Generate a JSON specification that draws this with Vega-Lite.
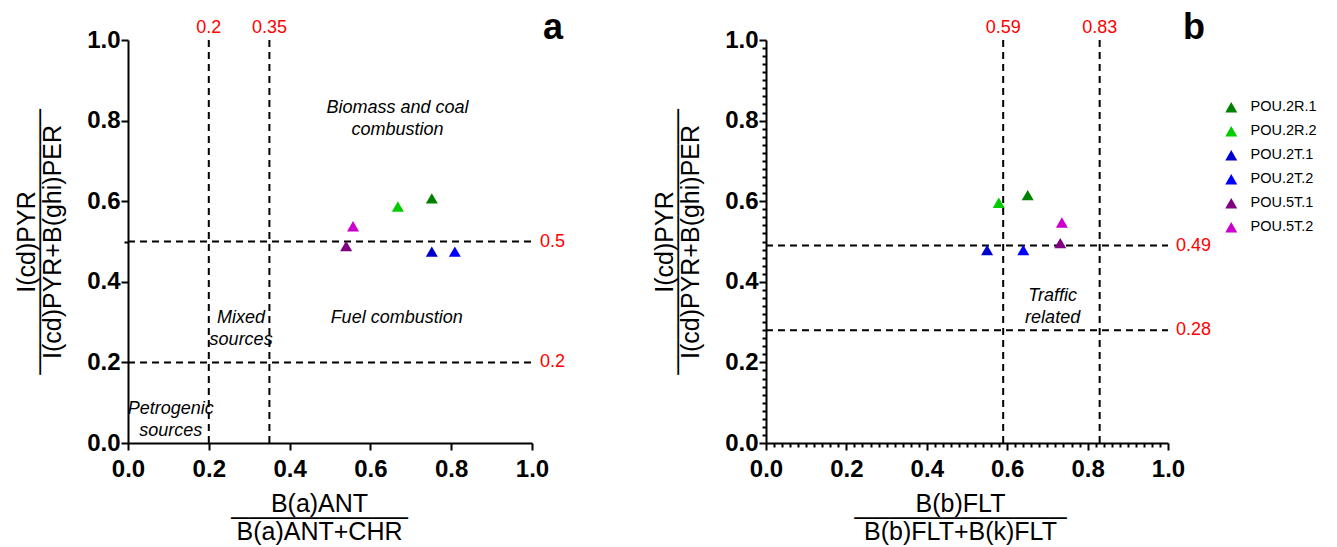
{
  "$schema": "https://vega.github.io/schema/vega-lite/v6.json",
  "background": "white",
  "padding": {"left": 14, "top": 10, "right": 5, "bottom": 2},
  "config": {
    "view": {"stroke": null},
    "font": "Liberation Sans",
    "axis": {
      "grid": false,
      "domainColor": "black",
      "domainWidth": 2,
      "tickColor": "black",
      "tickWidth": 2,
      "labelFont": "Liberation Sans",
      "labelFontWeight": "bold",
      "labelFontSize": 24,
      "labelColor": "black",
      "labelFlush": false,
      "labelOverlap": false,
      "titleFont": "Liberation Sans",
      "titleFontWeight": "normal",
      "titleFontSize": 25,
      "titleColor": "black",
      "titleLineHeight": 14
    },
    "axisX": {"labelPadding": 7, "titlePadding": 10},
    "axisY": {"labelPadding": 1, "titlePadding": 21, "titleLineHeight": 13},
    "legend": {
      "orient": "none",
      "legendX": 1096,
      "legendY": 60,
      "labelFont": "Liberation Sans",
      "labelFontSize": 14.5,
      "labelColor": "black",
      "symbolSize": 144,
      "rowPadding": 9,
      "labelOffset": 12
    },
    "title": {"font": "Liberation Sans", "fontSize": 36, "fontWeight": "bold", "color": "black", "anchor": "end"}
  },
  "datasets": {
    "ptsA": [
      {"s": "POU.2R.1", "x": 0.752, "y": 0.607},
      {"s": "POU.2R.2", "x": 0.668, "y": 0.587},
      {"s": "POU.2T.1", "x": 0.752, "y": 0.475},
      {"s": "POU.2T.2", "x": 0.809, "y": 0.475},
      {"s": "POU.5T.1", "x": 0.540, "y": 0.489},
      {"s": "POU.5T.2", "x": 0.557, "y": 0.538}
    ],
    "ptsB": [
      {"s": "POU.2R.1", "x": 0.651, "y": 0.615},
      {"s": "POU.2R.2", "x": 0.579, "y": 0.596},
      {"s": "POU.2T.1", "x": 0.550, "y": 0.479},
      {"s": "POU.2T.2", "x": 0.640, "y": 0.479},
      {"s": "POU.5T.1", "x": 0.732, "y": 0.496},
      {"s": "POU.5T.2", "x": 0.736, "y": 0.547}
    ],
    "vA": [{"v": 0.2, "lab": "0.2"}, {"v": 0.35, "lab": "0.35"}],
    "hA": [{"h": 0.5, "lab": "0.5"}, {"h": 0.2, "lab": "0.2"}],
    "vB": [{"v": 0.59, "lab": "0.59"}, {"v": 0.83, "lab": "0.83"}],
    "hB": [{"h": 0.49, "lab": "0.49"}, {"h": 0.28, "lab": "0.28"}],
    "notesA": [
      {"x": 0.667, "y": 0.831, "t": "Biomass and coal|combustion"},
      {"x": 0.280, "y": 0.31, "t": "Mixed|sources"},
      {"x": 0.665, "y": 0.31, "t": "Fuel combustion"},
      {"x": 0.106, "y": 0.084, "t": "Petrogenic|sources"}
    ],
    "notesB": [
      {"x": 0.713, "y": 0.365, "t": "Traffic|related"}
    ]
  },
  "bounds": "flush",
  "spacing": 234,
  "hconcat": [
    {
      "width": 404,
      "height": 403,
      "title": {"text": "a", "dx": -2, "dy": 30, "offset": 2},
      "layer": [
        {
          "data": {"name": "vA"},
          "mark": {"type": "rule", "strokeDash": [7, 5], "strokeWidth": 2, "color": "black"},
          "encoding": {
            "x": {"field": "v", "type": "quantitative", "scale": {"domain": [0, 1], "nice": false},
              "axis": {"values": [0, 0.2, 0.4, 0.6, 0.8, 1], "format": ".1f", "tickSize": 7, "titleX": 191,
                "title": ["B(a)ANT", "──────────", "B(a)ANT+CHR"]}},
            "y": {"datum": 0, "type": "quantitative", "scale": {"domain": [0, 1], "nice": false}},
            "y2": {"datum": 1}
          }
        },
        {
          "data": {"name": "hA"},
          "mark": {"type": "rule", "strokeDash": [7, 5], "strokeWidth": 2, "color": "black"},
          "encoding": {
            "y": {"field": "h", "type": "quantitative", "scale": {"domain": [0, 1], "nice": false},
              "axis": {"values": [0, 0.2, 0.4, 0.5, 0.6, 0.8, 1], "tickCount": 20,
                "labelExpr": "datum.value == 0.5 ? '' : format(datum.value, '.1f')",
                "tickSize": {"condition": {"test": "datum.value == 0.5", "value": 4}, "value": 7},
                "title": ["I(cd)PYR", "───────────────", "I(cd)PYR+B(ghi)PER"]}},
            "x": {"datum": 0, "type": "quantitative", "scale": {"domain": [0, 1], "nice": false}},
            "x2": {"datum": 1}
          }
        },
        {
          "data": {"name": "vA"},
          "mark": {"type": "text", "color": "#ff0000", "fontSize": 18, "baseline": "alphabetic", "dy": -7},
          "encoding": {
            "x": {"field": "v", "type": "quantitative"},
            "y": {"datum": 1, "type": "quantitative"},
            "text": {"field": "lab"}
          }
        },
        {
          "data": {"name": "hA"},
          "mark": {"type": "text", "color": "#ff0000", "fontSize": 18, "align": "left", "baseline": "middle", "dx": 8},
          "encoding": {
            "y": {"field": "h", "type": "quantitative"},
            "x": {"datum": 1, "type": "quantitative"},
            "text": {"field": "lab"}
          }
        },
        {
          "data": {"name": "notesA"},
          "mark": {"type": "text", "fontSize": 18, "fontStyle": "italic", "lineBreak": "|", "lineHeight": 22, "color": "black"},
          "encoding": {
            "x": {"field": "x", "type": "quantitative"},
            "y": {"field": "y", "type": "quantitative"},
            "text": {"field": "t"}
          }
        },
        {
          "data": {"name": "ptsA"},
          "mark": {"type": "point", "shape": "triangle-up", "filled": true, "size": 144, "opacity": 1},
          "encoding": {
            "x": {"field": "x", "type": "quantitative"},
            "y": {"field": "y", "type": "quantitative"},
            "color": {"field": "s", "type": "nominal",
              "scale": {"domain": ["POU.2R.1", "POU.2R.2", "POU.2T.1", "POU.2T.2", "POU.5T.1", "POU.5T.2"],
                "range": ["#008000", "#00cc00", "#0000cc", "#0000ff", "#800080", "#cc00cc"]},
              "legend": {"title": null}}
          }
        }
      ]
    },
    {
      "width": 402,
      "height": 403,
      "title": {"text": "b", "dx": -6, "dy": 30, "offset": 2},
      "layer": [
        {
          "data": {"name": "vB"},
          "mark": {"type": "rule", "strokeDash": [7, 5], "strokeWidth": 2, "color": "black"},
          "encoding": {
            "x": {"field": "v", "type": "quantitative", "scale": {"domain": [0, 1], "nice": false},
              "axis": {"values": [0,0.02,0.04,0.06,0.08,0.1,0.12,0.14,0.16,0.18,0.2,0.22,0.24,0.26,0.28,0.3,0.32,0.34,0.36,0.38,0.4,0.42,0.44,0.46,0.48,0.5,0.52,0.54,0.56,0.58,0.6,0.62,0.64,0.66,0.68,0.7,0.72,0.74,0.76,0.78,0.8,0.82,0.84,0.86,0.88,0.9,0.92,0.94,0.96,0.98,1],
                "tickCount": 100, "titleX": 194,
                "labelExpr": "abs(datum.value*5 - round(datum.value*5)) < 0.001 ? format(datum.value, '.1f') : ''",
                "tickSize": {"condition": {"test": "abs(datum.value*5 - round(datum.value*5)) < 0.001", "value": 7}, "value": 4},
                "title": ["B(b)FLT", "────────────", "B(b)FLT+B(k)FLT"]}},
            "y": {"datum": 0, "type": "quantitative", "scale": {"domain": [0, 1], "nice": false}},
            "y2": {"datum": 1}
          }
        },
        {
          "data": {"name": "hB"},
          "mark": {"type": "rule", "strokeDash": [7, 5], "strokeWidth": 2, "color": "black"},
          "encoding": {
            "y": {"field": "h", "type": "quantitative", "scale": {"domain": [0, 1], "nice": false},
              "axis": {"values": [0,0.02,0.04,0.06,0.08,0.1,0.12,0.14,0.16,0.18,0.2,0.22,0.24,0.26,0.28,0.3,0.32,0.34,0.36,0.38,0.4,0.42,0.44,0.46,0.48,0.5,0.52,0.54,0.56,0.58,0.6,0.62,0.64,0.66,0.68,0.7,0.72,0.74,0.76,0.78,0.8,0.82,0.84,0.86,0.88,0.9,0.92,0.94,0.96,0.98,1],
                "tickCount": 100,
                "labelExpr": "abs(datum.value*5 - round(datum.value*5)) < 0.001 ? format(datum.value, '.1f') : ''",
                "tickSize": {"condition": {"test": "abs(datum.value*5 - round(datum.value*5)) < 0.001", "value": 7}, "value": 4},
                "title": ["I(cd)PYR", "───────────────", "I(cd)PYR+B(ghi)PER"]}},
            "x": {"datum": 0, "type": "quantitative", "scale": {"domain": [0, 1], "nice": false}},
            "x2": {"datum": 1}
          }
        },
        {
          "data": {"name": "vB"},
          "mark": {"type": "text", "color": "#ff0000", "fontSize": 18, "baseline": "alphabetic", "dy": -7},
          "encoding": {
            "x": {"field": "v", "type": "quantitative"},
            "y": {"datum": 1, "type": "quantitative"},
            "text": {"field": "lab"}
          }
        },
        {
          "data": {"name": "hB"},
          "mark": {"type": "text", "color": "#ff0000", "fontSize": 18, "align": "left", "baseline": "middle", "dx": 8},
          "encoding": {
            "y": {"field": "h", "type": "quantitative"},
            "x": {"datum": 1, "type": "quantitative"},
            "text": {"field": "lab"}
          }
        },
        {
          "data": {"name": "notesB"},
          "mark": {"type": "text", "fontSize": 18, "fontStyle": "italic", "lineBreak": "|", "lineHeight": 22, "color": "black"},
          "encoding": {
            "x": {"field": "x", "type": "quantitative"},
            "y": {"field": "y", "type": "quantitative"},
            "text": {"field": "t"}
          }
        },
        {
          "data": {"name": "ptsB"},
          "mark": {"type": "point", "shape": "triangle-up", "filled": true, "size": 144, "opacity": 1},
          "encoding": {
            "x": {"field": "x", "type": "quantitative"},
            "y": {"field": "y", "type": "quantitative"},
            "color": {"field": "s", "type": "nominal",
              "scale": {"domain": ["POU.2R.1", "POU.2R.2", "POU.2T.1", "POU.2T.2", "POU.5T.1", "POU.5T.2"],
                "range": ["#008000", "#00cc00", "#0000cc", "#0000ff", "#800080", "#cc00cc"]},
              "legend": {"title": null}}
          }
        }
      ]
    }
  ]
}
